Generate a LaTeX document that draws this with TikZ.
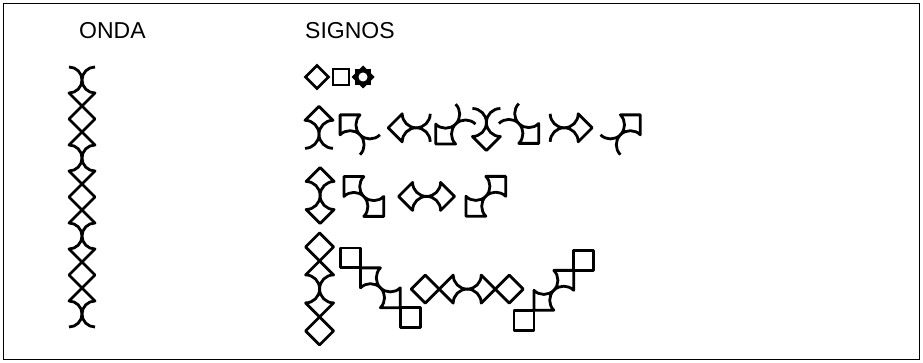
\documentclass[tikz,border=0pt]{standalone}
\usepackage{fontspec}
\setmainfont{Liberation Sans}
\usepackage{tikz}
\definecolor{tinta}{HTML}{000000}
\tikzset{
  signo/.style={draw=tinta,line width=2.8pt,line join=round},
  marco/.style={draw=tinta,line width=1.6pt},
  rotulo/.style={font=\fontsize{23}{23}\selectfont,text=tinta,inner sep=0pt,anchor=base west},
}
\def\rmedio{13}
\def\clado{19.9}
\newcommand{\recto}{--}
\newcommand{\curvo}{to[bend right=45]}
% rombo: centro x, centro y; lados sup-der, inf-der, inf-izq, sup-izq
\newcommand{\rombo}[6]{\draw[signo] (#1,#2-\rmedio) #3 (#1+\rmedio,#2) #4 (#1,#2+\rmedio) #5 (#1-\rmedio,#2) #6 cycle;}
% cuadro: esquina sup-izq x, y; lados arriba, der, abajo, izq
\newcommand{\cuadro}[6]{\draw[signo] (#1,#2) #3 (#1+\clado,#2) #4 (#1+\clado,#2+\clado) #5 (#1,#2+\clado) #6 cycle;}

\begin{document}
\begin{tikzpicture}[x=1pt,y=-1pt]
  \useasboundingbox (0,0) rectangle (923,363);
  \draw[marco] (3.5,3.5) rectangle (919.5,359.5);

  \node[rotulo] (onda) at (79,39) {ONDA};
  \node[rotulo] (signos) at (305,39) {SIGNOS};

  % onda
  \foreach \y/\a/\b in {93/\curvo/\recto,119/\recto/\recto,145/\recto/\curvo,
    171/\curvo/\recto,197/\recto/\recto,223/\recto/\curvo,
    249/\curvo/\recto,275/\recto/\recto,301/\recto/\curvo}
    \rombo{82}{\y}{\a}{\b}{\b}{\a};
  \draw[signo] (95,67) \curvo (82,80) \curvo (69,67);
  \draw[signo] (69,327) \curvo (82,314) \curvo (95,327);

  % signos, fila 1
  \draw[signo,line join=miter] (317,65.5) -- (328.5,77) -- (317,88.5) -- (305.5,77) -- cycle;
  \draw[signo,line join=miter] (333,69) rectangle (349,85);
  \fill[tinta] (363,65.5) -- (374.5,77) -- (363,88.5) -- (351.5,77) -- cycle;
  \fill[tinta] (354.9,68.9) rectangle (371.1,85.1);
  \fill[white] (363,77) circle[radius=4.5];

  \def\rmedio{14}
  % fila 2
  \rombo{319}{120.3}{\recto}{\curvo}{\curvo}{\recto}
  \draw[signo] (305,148.3) \curvo (319,134.3) \curvo (333,148.3);
  \cuadro{340.1}{114.9}{\recto}{\curvo}{\curvo}{\recto}
  \draw[signo] (360,154.7) \curvo (360,134.8) \curvo (379.9,134.8);
  \rombo{402.2}{127.8}{\curvo}{\curvo}{\recto}{\recto}
  \draw[signo] (430.2,141.8) \curvo (416.2,127.8) \curvo (430.2,113.8);
  \cuadro{435.7}{124.1}{\curvo}{\curvo}{\recto}{\recto}
  \draw[signo] (475.5,124.1) \curvo (455.6,124.1) \curvo (455.6,104.2);
  \rombo{486.4}{136.5}{\curvo}{\recto}{\recto}{\curvo}
  \draw[signo] (500.4,108.5) \curvo (486.4,122.5) \curvo (472.4,108.5);
  \cuadro{518.8}{123.5}{\curvo}{\recto}{\recto}{\curvo}
  \draw[signo] (518.8,103.6) \curvo (518.8,123.5) \curvo (498.9,123.5);
  \rombo{578.2}{127.8}{\recto}{\recto}{\curvo}{\curvo}
  \draw[signo] (550.2,113.8) \curvo (564.2,127.8) \curvo (550.2,141.8);
  \cuadro{620.4}{114.9}{\recto}{\recto}{\curvo}{\curvo}
  \draw[signo] (600.5,134.8) \curvo (620.4,134.8) \curvo (620.4,154.7);

  % fila 3
  \rombo{320.1}{181.5}{\recto}{\curvo}{\curvo}{\recto}
  \rombo{320.1}{209.5}{\curvo}{\recto}{\recto}{\curvo}
  \cuadro{343.9}{176.6}{\recto}{\curvo}{\curvo}{\recto}
  \cuadro{363.8}{196.5}{\curvo}{\recto}{\recto}{\curvo}
  \rombo{412.6}{196.4}{\curvo}{\curvo}{\recto}{\recto}
  \rombo{440.6}{196.4}{\recto}{\recto}{\curvo}{\curvo}
  \cuadro{465.9}{196.3}{\curvo}{\curvo}{\recto}{\recto}
  \cuadro{485.8}{176.4}{\recto}{\recto}{\curvo}{\curvo}

  % fila 4
  \rombo{319.6}{246.9}{\recto}{\recto}{\recto}{\recto}
  \rombo{319.6}{274.9}{\recto}{\curvo}{\curvo}{\recto}
  \rombo{319.6}{302.9}{\curvo}{\recto}{\recto}{\curvo}
  \rombo{319.6}{330.9}{\recto}{\recto}{\recto}{\recto}
  \cuadro{340.6}{248}{\recto}{\recto}{\recto}{\recto}
  \cuadro{360.5}{267.9}{\recto}{\curvo}{\curvo}{\recto}
  \cuadro{380.4}{287.8}{\curvo}{\recto}{\recto}{\curvo}
  \cuadro{400.3}{307.7}{\recto}{\recto}{\recto}{\recto}
  \rombo{425.2}{289.1}{\recto}{\recto}{\recto}{\recto}
  \rombo{453.2}{289.1}{\curvo}{\curvo}{\recto}{\recto}
  \rombo{481.2}{289.1}{\recto}{\recto}{\curvo}{\curvo}
  \rombo{509.2}{289.1}{\recto}{\recto}{\recto}{\recto}
  \cuadro{514}{310.2}{\recto}{\recto}{\recto}{\recto}
  \cuadro{533.9}{290.3}{\curvo}{\curvo}{\recto}{\recto}
  \cuadro{553.8}{270.4}{\recto}{\recto}{\curvo}{\curvo}
  \cuadro{573.7}{250.5}{\recto}{\recto}{\recto}{\recto}
\end{tikzpicture}
\end{document}
